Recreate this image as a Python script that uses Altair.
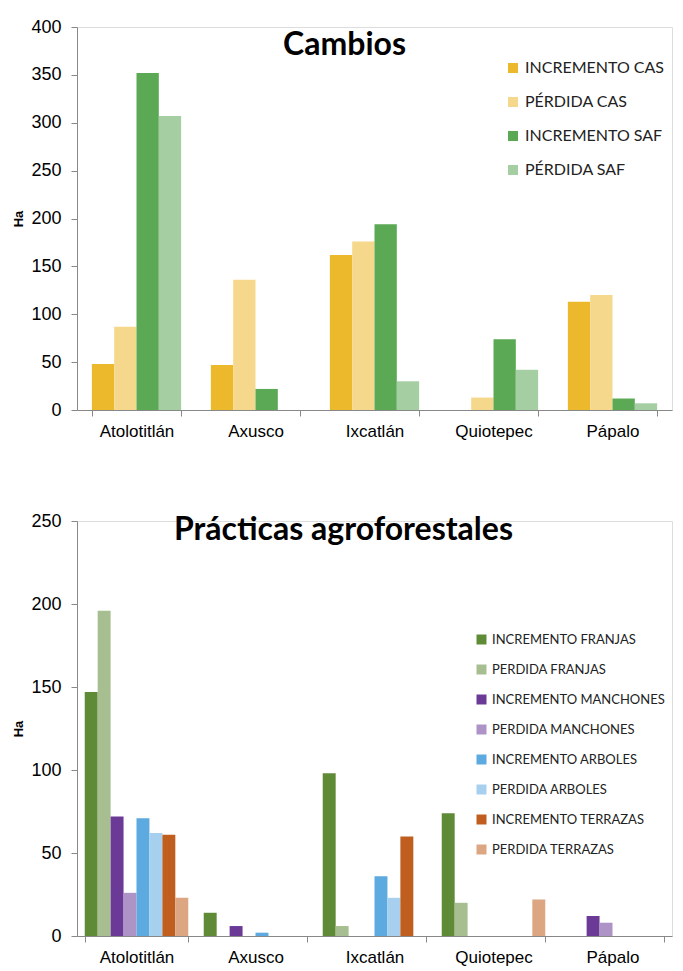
import altair as alt
import pandas as pd

municipios = ["Atolotitlán", "Axusco", "Ixcatlán", "Quiotepec", "Pápalo"]

# --- Cambios ---
series_cambios = ["INCREMENTO CAS", "PÉRDIDA CAS", "INCREMENTO SAF", "PÉRDIDA SAF"]
inc_cas = [48, 47, 162, 0, 113]
per_cas = [87, 136, 176, 13, 120]
inc_saf = [352, 22, 194, 74, 12]
per_saf = [307, 0, 30, 42, 7]
colors_cambios = ["#EDB92C", "#EDB92C", "#5BA855", "#5BA855"]

# --- Prácticas agroforestales ---
series_prac = ["INCREMENTO FRANJAS", "PERDIDA FRANJAS", "INCREMENTO MANCHONES", "PERDIDA MANCHONES",
               "INCREMENTO ARBOLES", "PERDIDA ARBOLES", "INCREMENTO TERRAZAS", "PERDIDA TERRAZAS"]
inc_franjas = [147, 14, 98, 74, 0]
per_franjas = [196, 0, 6, 20, 0]
inc_manch = [72, 6, 0, 0, 12]
per_manch = [26, 0, 0, 0, 8]
inc_arb = [71, 2, 36, 0, 0]
per_arb = [62, 0, 23, 0, 0]
inc_terr = [61, 0, 60, 0, 0]
per_terr = [23, 0, 0, 22, 0]
colors_prac = ["#5F8A36", "#5F8A36", "#6B3A97", "#6B3A97",
               "#5DAAE0", "#5DAAE0", "#BF5E1E", "#BF5E1E"]

FONT = "Lato"


def tint(hexc, f=0.55):
    r, g, b = int(hexc[1:3], 16), int(hexc[3:5], 16), int(hexc[5:7], 16)
    mix = lambda c: int(round(c * f + 255 * (1 - f)))
    return "#%02X%02X%02X" % (mix(r), mix(g), mix(b))


def build(series, values, colors, title, title_dx, title_off, ymax, width, height,
          pinner, legend_x, legend_y, legend_font, legend_row):
    rows = []
    for s, vals in zip(series, values):
        for m, v in zip(municipios, vals):
            rows.append({"Municipio": m, "Serie": s, "Ha": v})
    df = pd.DataFrame(rows)
    fills = [c if s.startswith("INCREMENTO") else tint(c) for s, c in zip(series, colors)]

    x = alt.X("Municipio:N", sort=municipios,
              scale=alt.Scale(paddingInner=pinner, paddingOuter=pinner / 2),
              axis=alt.Axis(title=None, labelAngle=0, tickBand="extent", labelFontSize=17,
                            labelPadding=7, tickSize=6, grid=False))
    xo = alt.XOffset("Serie:N", sort=series,
                     scale=alt.Scale(domain=series, paddingInner=0, paddingOuter=0))
    y = alt.Y("Ha:Q", scale=alt.Scale(domain=[0, ymax], nice=False),
              axis=alt.Axis(values=list(range(0, ymax + 1, 50)), title="Ha", titleFontSize=13,
                            titleFontWeight="bold", titleColor="#000", labelFontSize=18,
                            tickSize=6, titlePadding=5, labelPadding=10, grid=False))
    chart = alt.Chart(df).mark_bar().encode(
        x=x, xOffset=xo, y=y,
        color=alt.Color("Serie:N", sort=series,
                        scale=alt.Scale(domain=series, range=fills),
                        legend=alt.Legend(title=None, orient="none", legendX=legend_x, legendY=legend_y,
                                          symbolType="square", symbolSize=100, labelFontSize=legend_font,
                                          labelFont=FONT, labelColor="#222", rowPadding=legend_row,
                                          labelLimit=300, symbolStrokeWidth=0)))
    return chart.properties(
        width=width, height=height,
        title=alt.TitleParams(text=title, fontSize=32, font=FONT, fontWeight="bold", color="#000",
                              anchor="middle", offset=title_off, dx=title_dx))


W = 595
top = build(series_cambios, [inc_cas, per_cas, inc_saf, per_saf], colors_cambios,
            "Cambios", -30, -44, 400, W, 383, 0.25, 428, 33, 16, 18)
bottom = build(series_prac, [inc_franjas, per_franjas, inc_manch, per_manch,
                             inc_arb, per_arb, inc_terr, per_terr], colors_prac,
               "Prácticas agroforestales", -31, -35, 250, W, 415, 0.13, 398, 112, 13, 16)

chart = alt.vconcat(top, bottom, spacing=71).resolve_scale(
    color="independent", x="independent", y="independent", xOffset="independent"
).resolve_legend(color="independent").properties(
    padding={"left": 4, "top": 9, "right": 0, "bottom": 0}
).configure_view(stroke=None).configure_axis(
    grid=False, domainColor="#A6A6A6", tickColor="#A6A6A6", labelColor="#262626",
    labelFont=FONT, titleFont=FONT
).configure(background="white")

chart.save("out.html", embed_options={"renderer": "svg", "actions": False})
